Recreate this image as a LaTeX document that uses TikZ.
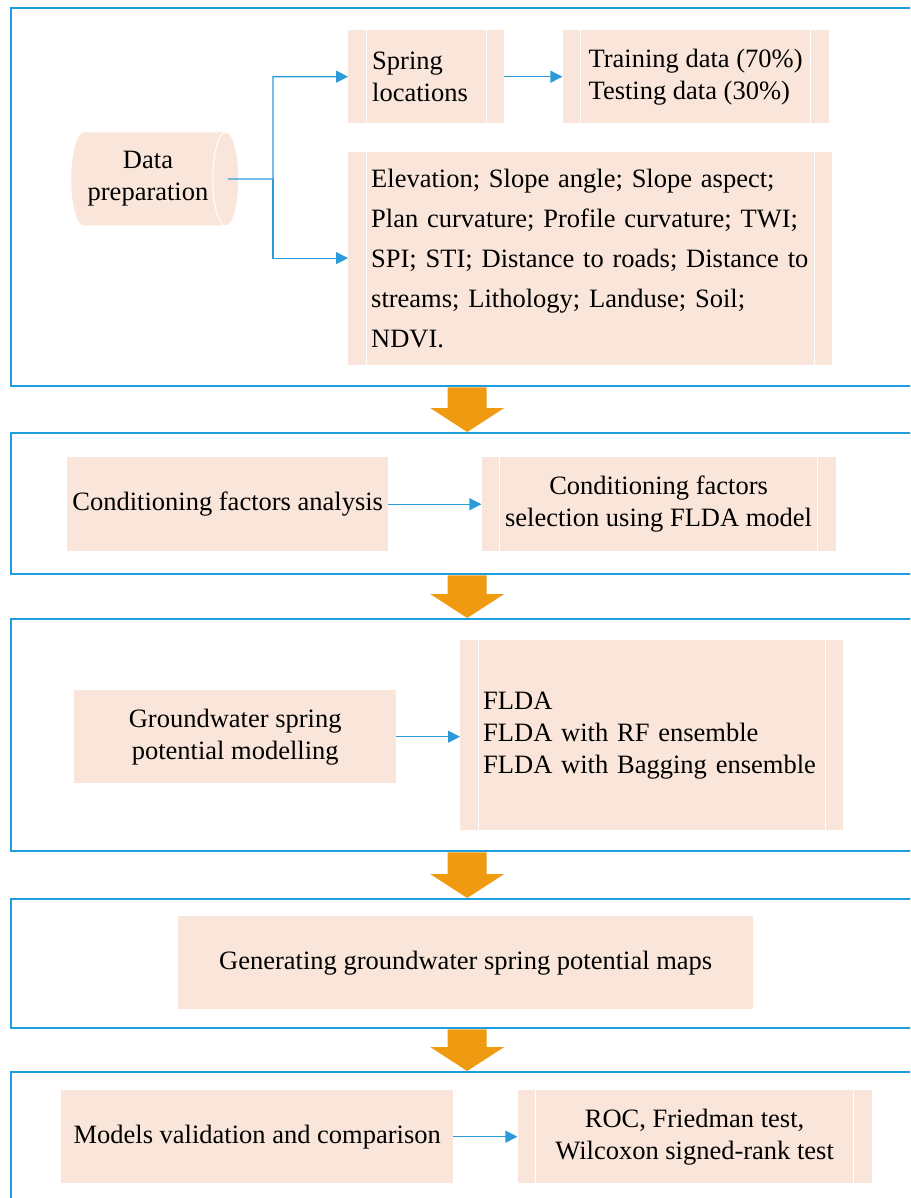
\documentclass[tikz,border=0pt]{standalone}
\usepackage{fontspec}
\setmainfont{Liberation Serif}
\usetikzlibrary{arrows.meta, positioning, shapes.geometric}
\definecolor{framec}{HTML}{1E9DDF}
\definecolor{linkc}{HTML}{2A9AD8}
\definecolor{peach}{HTML}{F9E5D9}
\definecolor{flowc}{HTML}{F09A12}

\begin{document}
\begin{tikzpicture}[x=1pt, y=-1pt,
    every node/.style={font=\fontsize{26.5}{32}\selectfont},
    frame/.style={draw=framec, line width=2.4pt, minimum width=912pt, anchor=north west, inner sep=0pt},
    box/.style={fill=peach, anchor=north west, inner sep=2pt, align=center},
    procbox/.style={box, path picture={
        \draw[white, line width=1pt] ([xshift=18pt]path picture bounding box.north west) -- ([xshift=18pt]path picture bounding box.south west);
        \draw[white, line width=1pt] ([xshift=-18pt]path picture bounding box.north east) -- ([xshift=-18pt]path picture bounding box.south east);}},
    lbox/.style={procbox, align=left, inner xsep=24pt},
    store/.style={shape=cylinder, draw=white, line width=1pt, fill=peach, aspect=0.47, minimum height=168pt, minimum width=94pt, align=center, inner sep=0pt},
    arr/.style={-{Triangle[length=12pt, width=12pt]}, linkc, line width=1.2pt},
    flow/.style={fill=flowc}]
  \useasboundingbox (0,0) rectangle (910,1198);
  \clip (0,0) rectangle (910,1198);

  % frames
  \node[frame, minimum height=378pt] (fr1) at (10,7) {};
  \node[frame, minimum height=141pt] (fr2) at (10,432) {};
  \node[frame, minimum height=232pt] (fr3) at (10,618) {};
  \node[frame, minimum height=129pt] (fr4) at (10,898) {};
  \node[frame, minimum height=150pt] (fr5) at (10,1071) {};

  % data preparation
  \node[store] (prep) at (148,179) {Data\\preparation};
  \node[lbox, text width=108pt, minimum height=93pt] (spring) at (348,30) {Spring\\locations};
  \node[lbox, inner xsep=22pt, minimum width=266pt, minimum height=93pt, right=58pt of spring] (sets) {Training data (70\%)\\Testing data (30\%)};
  \node[lbox, text width=438pt, inner xsep=23pt, minimum height=213pt, font=\fontsize{26.5}{40}\selectfont,
        below=28pt of spring.south west, anchor=north west] (factors)
        {Elevation; Slope angle; Slope aspect;\\Plan curvature; Profile curvature; TWI;\\SPI; STI; Distance to roads; Distance to\\streams; Lithology; Landuse; Soil;\\NDVI.};
  \coordinate (fork) at (273,179);
  \draw[arr] ([xshift=-11pt]prep.east) -- (fork) |- (spring.west);
  \draw[arr] (fork) |- (factors.west);
  \draw[arr] (spring) -- (sets);

  % factor selection
  \node[box, minimum width=321pt, minimum height=94pt] (analysis) at (67,457) {Conditioning factors analysis};
  \node[procbox, minimum width=354pt, minimum height=94pt, right=93pt of analysis] (select) {Conditioning factors\\selection using FLDA model};
  \draw[arr] (analysis) -- (select);

  % modelling
  \node[box, minimum width=322pt, minimum height=93pt] (model) at (74,690) {Groundwater spring\\potential modelling};
  \node[lbox, text width=337pt, inner xsep=23pt, minimum height=190pt] (ens) at (460,640) {FLDA\\FLDA with RF ensemble\\FLDA with Bagging ensemble};
  \draw[arr] (model.east) -- (model.east -| ens.west);

  % maps
  \node[box, minimum width=575pt, minimum height=93pt] (maps) at (178,916) {Generating groundwater spring potential maps};

  % validation
  \node[box, minimum width=392pt, minimum height=93pt] (valid) at (61,1090) {Models validation and comparison};
  \node[procbox, minimum width=354pt, minimum height=93pt, right=64pt of valid] (tests) {ROC, Friedman test,\\Wilcoxon signed-rank test};
  \draw[arr] (valid) -- (tests);

  % big arrows between stages
  \foreach \a/\b in {fr1/fr2, fr2/fr3, fr3/fr4, fr4/fr5}
    \fill[flow] ([xshift=-19.5pt]\a.south) -- ([xshift=-19.5pt, yshift=24pt]\b.north) -- ([xshift=-37pt, yshift=24pt]\b.north)
      -- (\b.north) -- ([xshift=37pt, yshift=24pt]\b.north) -- ([xshift=19.5pt, yshift=24pt]\b.north) -- ([xshift=19.5pt]\a.south) -- cycle;
\end{tikzpicture}
\end{document}
